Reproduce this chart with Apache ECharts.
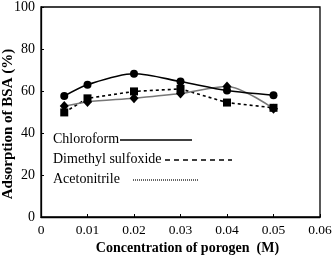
<!DOCTYPE html>
<html><head><meta charset="utf-8">
<script src="https://cdn.jsdelivr.net/npm/echarts@6/dist/echarts.min.js"></script>
<style>html,body{margin:0;padding:0;background:#fff}#c{width:333px;height:257px}</style>
</head><body><div id="c"></div>
<script>
var concentrations = [0.005, 0.01, 0.02, 0.03, 0.04, 0.05];
var chloroform = [57.6, 63, 68.2, 64.5, 60.2, 58];
var dmso = [49.8, 56.5, 59.8, 61, 54.5, 52];
var acetonitrile = [52.8, 54.8, 56.6, 58.8, 62.2, 51.6];
var seriesNames = ['Chloroform', 'Dimethyl sulfoxide', 'Acetonitrile'];
var xTitle = 'Concentration of porogen  (M)';
var yTitle = 'Adsorption of BSA (%)';

function pairs(v){ return concentrations.map(function(x,i){return [x, v[i]];}); }
var font = '"Liberation Serif","Times New Roman",serif';
var chart = echarts.init(document.getElementById('c'), null, {renderer:'canvas'});
chart.setOption({
  animation:false,
  grid:{left:41, right:13, top:7, bottom:40, containLabel:false, outerBoundsMode:'none',
    show:true, borderColor:'#000', borderWidth:1.3},
  xAxis:{type:'value', min:0, max:0.06, interval:0.01,
    name:xTitle, nameLocation:'middle', nameGap:24, nameMoveOverlap:false,
    nameTextStyle:{fontFamily:font, fontWeight:'bold', fontSize:14, color:'#000', padding:[0,0,0,14]},
    axisLine:{lineStyle:{color:'#000', width:1.3}},
    axisTick:{inside:true, length:3, lineStyle:{color:'#000'}},
    splitLine:{show:false},
    axisLabel:{fontFamily:font, fontSize:13.5, color:'#000', margin:6,
      formatter:function(v){return v===0?'0':v.toFixed(2);}}},
  yAxis:{type:'value', min:0, max:100, interval:20,
    name:yTitle, nameLocation:'middle', nameGap:25, nameRotate:90, nameMoveOverlap:false,
    nameTextStyle:{fontFamily:font, fontWeight:'bold', fontSize:15, color:'#000', padding:[0,24,0,0]},
    axisLine:{show:true, lineStyle:{color:'#000', width:1.3}},
    axisTick:{show:true, inside:true, length:3, lineStyle:{color:'#000'}},
    splitLine:{show:false},
    axisLabel:{fontFamily:font, fontSize:14, color:'#000', margin:6}},
  series:[
    {name:seriesNames[0], type:'line', data:pairs(chloroform), smooth:0.3,
      symbol:'circle', symbolSize:8, itemStyle:{color:'#000'},
      lineStyle:{color:'#000', width:1.6}, z:3},
    {name:seriesNames[1], type:'line', data:pairs(dmso),
      symbol:'rect', symbolSize:8, itemStyle:{color:'#000'},
      lineStyle:{color:'#000', width:1.6, type:[3,3]}, z:2},
    {name:seriesNames[2], type:'line', data:pairs(acetonitrile), smooth:0.3,
      symbol:'diamond', symbolSize:[9,10], itemStyle:{color:'#000'},
      lineStyle:{color:'#777', width:1.5}, z:2}
  ],
  graphic:[
    {type:'text', left:53, top:132, style:{text:seriesNames[0], font:'14px '+font, fill:'#000'}},
    {type:'line', shape:{x1:120,y1:140,x2:192,y2:140}, style:{stroke:'#000', lineWidth:1.3}},
    {type:'text', left:53, top:152, style:{text:seriesNames[1], font:'14px '+font, fill:'#000'}},
    {type:'line', shape:{x1:165,y1:160,x2:232,y2:160}, style:{stroke:'#000', lineWidth:1.6, lineDash:[5,4]}},
    {type:'text', left:53, top:172, style:{text:seriesNames[2], font:'14px '+font, fill:'#000'}},
    {type:'line', shape:{x1:133,y1:180,x2:198,y2:180}, style:{stroke:'#000', lineWidth:1.2, lineDash:[1,1]}}
  ]
});
</script></body></html>
